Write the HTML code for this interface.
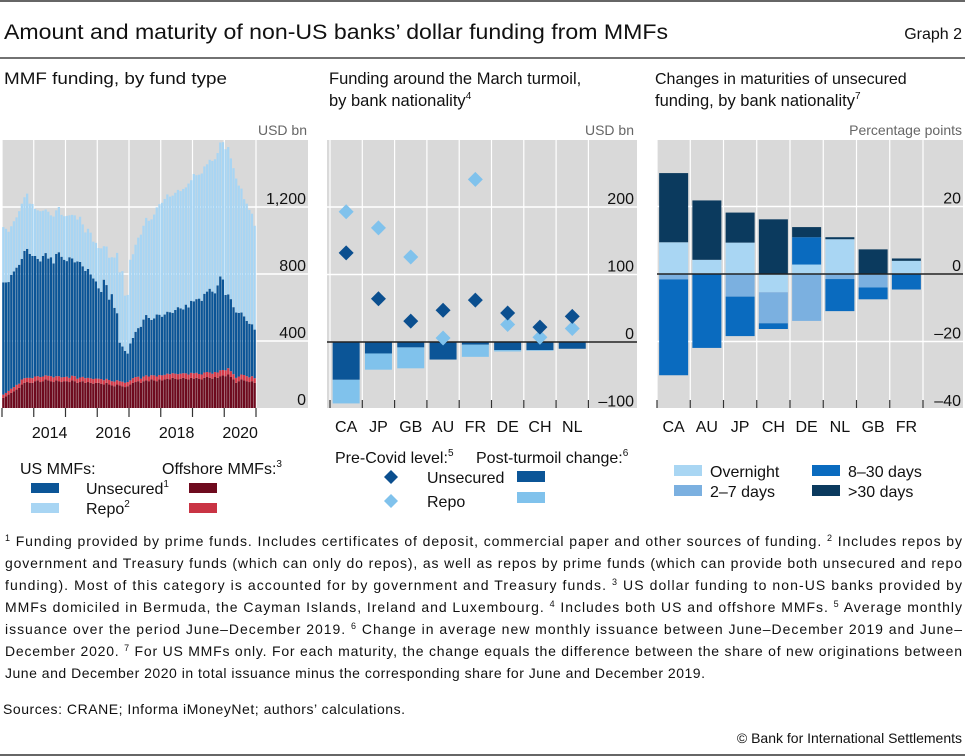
<!DOCTYPE html>
<html><head><meta charset="utf-8">
<style>
html,body{margin:0;padding:0;background:#fff;}
svg{display:block;font-family:"Liberation Sans",sans-serif;}
</style></head>
<body>
<svg id="page" width="965" height="756" viewBox="0 0 965 756" xmlns="http://www.w3.org/2000/svg">
<line x1="0" y1="1" x2="965" y2="1" stroke="#333" stroke-width="1.5"/>
<text x="4" y="39" font-size="21" fill="#111" textLength="664" lengthAdjust="spacingAndGlyphs">Amount and maturity of non-US banks’ dollar funding from MMFs</text>
<text x="962" y="39" font-size="16" fill="#111" text-anchor="end">Graph 2</text>
<line x1="0" y1="58" x2="965" y2="58" stroke="#444" stroke-width="1.5"/>

<text x="4" y="84" font-size="17" fill="#111" textLength="223" lengthAdjust="spacingAndGlyphs">MMF funding, by fund type</text>
<text x="329" y="84" font-size="16.5" fill="#111">Funding around the March turmoil,</text>
<text x="329" y="106" font-size="16.5" fill="#111">by bank nationality<tspan font-size="10" dy="-7">4</tspan></text>
<text x="655" y="84" font-size="16" fill="#111">Changes in maturities of unsecured</text>
<text x="655" y="106" font-size="16.5" fill="#111">funding, by bank nationality<tspan font-size="10" dy="-7">7</tspan></text>

<text x="307" y="135" font-size="14" fill="#666" text-anchor="end">USD bn</text>
<text x="634" y="135" font-size="14" fill="#666" text-anchor="end">USD bn</text>
<text x="962" y="135" font-size="14" fill="#666" text-anchor="end">Percentage points</text>

<g id="left"></g>
<g id="mid"></g>
<g id="right"></g>

<g font-size="16" fill="#111">
<text x="20" y="474">US MMFs:</text>
<text x="162" y="474">Offshore MMFs:<tspan font-size="10" dy="-7">3</tspan></text>
<rect x="31" y="483" width="28" height="10" fill="#0b5597"/>
<rect x="31" y="503" width="28" height="10" fill="#a8d5f3"/>
<text x="86" y="494">Unsecured<tspan font-size="10" dy="-7">1</tspan></text>
<text x="86" y="514">Repo<tspan font-size="10" dy="-7">2</tspan></text>
<rect x="189" y="483" width="28" height="10" fill="#6e0a1e"/>
<rect x="189" y="503" width="28" height="10" fill="#c93444"/>
</g>
<g font-size="16" fill="#111">
<text x="335" y="463">Pre-Covid level:<tspan font-size="10" dy="-7">5</tspan></text>
<text x="476" y="463">Post-turmoil change:<tspan font-size="10" dy="-7">6</tspan></text>
<path d="M391 470 L398 477 L391 484 L384 477 Z" fill="#0b4f8f"/>
<path d="M391 494 L398 501 L391 508 L384 501 Z" fill="#80c2ec"/>
<text x="427" y="483">Unsecured</text>
<text x="427" y="507">Repo</text>
<rect x="517" y="471" width="28" height="11" fill="#0b5597"/>
<rect x="517" y="492" width="28" height="11" fill="#80c2ec"/>
</g>
<g font-size="16" fill="#111">
<rect x="674" y="465" width="28" height="11" fill="#a9d6f3"/>
<rect x="674" y="485" width="28" height="11" fill="#7bb0e0"/>
<rect x="812" y="465" width="28" height="11" fill="#0a6bbf"/>
<rect x="812" y="485" width="28" height="11" fill="#0b3a5e"/>
<text x="710" y="477">Overnight</text>
<text x="710" y="497">2–7 days</text>
<text x="848" y="477">8–30 days</text>
<text x="848" y="497">&gt;30 days</text>
</g>

<g font-size="14" fill="#111">
<text x="5" y="546" textLength="957" lengthAdjust="spacing"><tspan font-size="9" dy="-5">1</tspan><tspan dy="5"> Funding provided by prime funds. Includes certificates of deposit, commercial paper and other sources of funding. </tspan><tspan font-size="9" dy="-5">2</tspan><tspan dy="5"> Includes repos by</tspan></text>
<text x="5" y="568" textLength="957" lengthAdjust="spacing">government and Treasury funds (which can only do repos), as well as repos by prime funds (which can provide both unsecured and repo</text>
<text x="5" y="590" textLength="957" lengthAdjust="spacing">funding). Most of this category is accounted for by government and Treasury funds. <tspan font-size="9" dy="-5">3</tspan><tspan dy="5"> US dollar funding to non-US banks provided by</tspan></text>
<text x="5" y="612" textLength="957" lengthAdjust="spacing">MMFs domiciled in Bermuda, the Cayman Islands, Ireland and Luxembourg. <tspan font-size="9" dy="-5">4</tspan><tspan dy="5"> Includes both US and offshore MMFs. </tspan><tspan font-size="9" dy="-5">5</tspan><tspan dy="5"> Average monthly</tspan></text>
<text x="5" y="634" textLength="957" lengthAdjust="spacing">issuance over the period June–December 2019. <tspan font-size="9" dy="-5">6</tspan><tspan dy="5"> Change in average new monthly issuance between June–December 2019 and June–</tspan></text>
<text x="5" y="656" textLength="957" lengthAdjust="spacing">December 2020. <tspan font-size="9" dy="-5">7</tspan><tspan dy="5"> For US MMFs only. For each maturity, the change equals the difference between the share of new originations between</tspan></text>
<text x="5" y="678" textLength="700" lengthAdjust="spacing">June and December 2020 in total issuance minus the corresponding share for June and December 2019.</text>
<text x="3" y="714" textLength="402" lengthAdjust="spacing">Sources: CRANE; Informa iMoneyNet; authors’ calculations.</text>
<text x="962" y="743" text-anchor="end">© Bank for International Settlements</text>
</g>
<line x1="0" y1="755" x2="965" y2="755" stroke="#333" stroke-width="1.5"/>
</svg>
<script>
// ---------- Left chart data (monthly, Jan 2013 – Dec 2020, USD bn) ----------
const leftYears = ["2014","2016","2018","2020"];
const leftTicks = [0,400,800,1200];
const leftTickLabels = ["0","400","800","1,200"];
const offUnsec = [60,70,80,90,100,110,120,140,150,155,150,150,
 160,165,155,160,170,165,160,155,165,160,155,160,
 160,155,165,160,150,155,160,150,155,150,145,150,
 150,145,140,150,140,135,130,140,135,130,125,130,
 140,150,155,160,150,160,165,160,170,165,160,170,
 165,170,175,170,180,175,170,175,180,175,170,180,
 175,180,175,170,180,185,180,175,185,180,190,195,
 190,200,185,170,150,160,170,165,160,155,160,150];
const offRepo = [20,20,22,25,25,28,25,30,28,25,30,28,
 28,25,30,28,25,27,30,28,25,30,28,25,
 27,25,28,30,25,27,26,28,25,27,28,26,
 25,28,26,24,27,25,28,26,25,27,26,25,
 25,28,30,27,25,28,30,28,26,30,28,27,
 30,28,30,32,28,30,32,30,28,32,30,30,
 32,30,28,30,32,30,32,30,30,32,35,32,
 35,38,35,32,30,28,30,32,30,28,30,28];
const usUnsec = [670,660,650,680,690,700,710,720,760,770,740,730,
 720,700,690,720,730,700,710,680,730,740,720,700,
 690,720,700,680,700,690,660,640,650,620,600,580,
 540,520,600,560,480,520,440,400,230,210,190,170,
 220,240,270,290,310,340,360,350,330,340,370,360,
 350,360,370,370,360,380,400,390,380,410,400,430,
 430,440,450,440,470,480,500,490,470,520,560,540,
 450,440,430,400,390,380,370,350,330,320,310,290];
const usRepo = [330,320,300,290,300,300,320,330,320,330,300,310,
 280,290,300,270,260,280,250,280,260,270,250,260,
 270,250,260,280,250,270,250,230,240,250,220,230,
 240,260,200,230,250,220,300,360,420,450,330,350,
 500,500,520,540,550,560,580,580,600,620,640,660,
 680,690,700,690,700,700,700,700,720,700,740,720,
 760,740,740,760,760,760,770,780,800,790,800,820,
 870,880,840,830,800,760,740,700,700,680,660,620];

// ---------- Middle chart data (USD bn) ----------
const midCats = ["CA","JP","GB","AU","FR","DE","CH","NL"];
const preUnsec = [132,64,31,47,62,43,22,38];
const preRepo = [193,169,126,6,241,26,7,20];
const chgUnsec = [-56,-17,-8,-26,-4,-12,-12,-10];
const chgRepo = [-35,-24,-31,0,-18,-2,-1,0];
const midTicks = [-100,0,100,200];
const midTickLabels = ["–100","0","100","200"];

// ---------- Right chart data (percentage points) ----------
const rightCats = ["CA","AU","JP","CH","DE","NL","GB","FR"];
const overnight = [9.4,4.2,9.3,-5.4,2.8,10.3,0,3.9];
const days2to7 = [-1.6,0,-6.7,-9.2,-13.9,-1.5,-4,0];
const days8to30 = [-28.4,-21.9,-11.7,-1.7,8.1,-9.5,-3.5,-4.6];
const over30 = [20.5,17.6,8.9,16.2,3.0,0.6,7.3,0.7];
const rightTicks = [-40,-20,0,20];
const rightTickLabels = ["–40","–20","0","20"];

const NS="http://www.w3.org/2000/svg";
function mk(parent,tag,attrs,text){const e=document.createElementNS(NS,tag);for(const k in attrs)e.setAttribute(k,attrs[k]);if(text!==undefined)e.textContent=text;parent.appendChild(e);return e;}

// ===== LEFT =====
(function(){
 const g=document.getElementById('left');
 const X0=2,X1=308,XB=256,Y0=140,Y1=408;
 const n=usRepo.length;
 const step=(XB-X0)/n;
 const y=v=>Y1-v*(67/400);
 const xi=i=>X0+i*step;
 const bg=mk(g,'rect',{x:X0,y:Y0,width:X1-X0,height:Y1-Y0,fill:'#d9d9d9'});
 
 
 leftTicks.forEach((t,k)=>{
  if(t>0){const l=mk(g,'line',{x1:X0,x2:X1,y1:y(t),y2:y(t),stroke:'#fff','stroke-width':1.5});
   
   }
 });
 for(let yr=0;yr<=8;yr++){
  const xx=xi(yr*12);
  const l=mk(g,'line',{x1:xx,x2:xx,y1:Y0,y2:Y1,stroke:'#fff','stroke-width':1.2});
  
  
 }
 const cols=['#6e0a1e','#d43848','#0b5597','#a8d5f3'];
 const series=[offUnsec,offRepo,usUnsec,usRepo];
 const names=['offshore-unsecured-bar','offshore-repo-bar','us-unsecured-bar','us-repo-bar'];
 for(let i=0;i<n;i++){
  let base=0;
  series.forEach((s,k)=>{
   const v=s[i];
   const r=mk(g,'rect',{x:xi(i)+0.2,y:y(base+v),width:step-0.4,height:y(base)-y(base+v),fill:cols[k]});
   
   
   base+=v;
  });
 }
 leftTicks.forEach((t,k)=>{
  const tx=mk(g,'text',{x:306,y:y(t)-3,'font-size':16,'text-anchor':'end',fill:'#111'},leftTickLabels[k]);
  
  
 });
 for(let yr=0;yr<=8;yr++){
  const xx=xi(yr*12);
  const l=mk(g,'line',{x1:xx,x2:xx,y1:Y1,y2:Y1+9,stroke:'#333','stroke-width':1.2});
  
  
 }
 leftYears.forEach((lab,k)=>{
  const cx=xi((1+2*k)*12+6);
  const tx=mk(g,'text',{x:cx,y:438,'font-size':16,'text-anchor':'middle',fill:'#111'},lab);
  
  
 });
})();

// ===== MIDDLE =====
(function(){
 const g=document.getElementById('mid');
 const X0=327,X1=637,XS=330,W=32.3,Y0=140,Y1=408;
 const y=v=>342-v*0.675;
 const bg=mk(g,'rect',{x:X0,y:Y0,width:X1-X0,height:Y1-Y0,fill:'#d9d9d9'});
 
 
 midTicks.forEach(t=>{
  if(t>0){const l=mk(g,'line',{x1:X0,x2:X1,y1:y(t),y2:y(t),stroke:'#fff','stroke-width':1.5});
   
   }
 });
 for(let i=0;i<=midCats.length;i++){
  const xx=XS+i*W;
  const l=mk(g,'line',{x1:xx,x2:xx,y1:Y0,y2:Y1,stroke:'#fff','stroke-width':1.2});
  
  
  const t=mk(g,'line',{x1:xx,x2:xx,y1:Y1-8,y2:Y1,stroke:'#333','stroke-width':1.2});
  
  
 }
 midCats.forEach((c,i)=>{
  const cx=XS+i*W+W/2, bw=27;
  const a=chgUnsec[i], b=chgRepo[i];
  const r1=mk(g,'rect',{x:cx-bw/2,y:Math.min(y(0),y(a)),width:bw,height:Math.abs(y(a)-y(0)),fill:'#0b5597'});
  
  
  const r2=mk(g,'rect',{x:cx-bw/2,y:Math.min(y(a),y(a+b)),width:bw,height:Math.abs(y(a+b)-y(a)),fill:'#80c2ec'});
  
  
 });
 const z=mk(g,'line',{x1:X0,x2:X1,y1:y(0),y2:y(0),stroke:'#222','stroke-width':1.5});
 
 
 midCats.forEach((c,i)=>{
  const cx=XS+i*W+W/2, d=7.5;
  [[preRepo,'#80c2ec','pre-covid-repo-diamond'],[preUnsec,'#0b4f8f','pre-covid-unsecured-diamond']].forEach(([arr,col,nm])=>{
   const yy=y(arr[i]);
   const p=mk(g,'path',{d:`M${cx} ${yy-d} L${cx+d} ${yy} L${cx} ${yy+d} L${cx-d} ${yy} Z`,fill:col});
   
   
  });
  const tx=mk(g,'text',{x:cx,y:432,'font-size':16,'text-anchor':'middle',fill:'#111'},c);
  
  
 });
 midTicks.forEach((t,k)=>{
  const tx=mk(g,'text',{x:634,y:y(t)-3,'font-size':16,'text-anchor':'end',fill:'#111'},midTickLabels[k]);
  
  
 });
})();

// ===== RIGHT =====
(function(){
 const g=document.getElementById('right');
 const X0=657,X1=963,W=33.25,Y0=140,Y1=408;
 const y=v=>274-v*3.375;
 const bg=mk(g,'rect',{x:X0,y:Y0,width:X1-X0,height:Y1-Y0,fill:'#d9d9d9'});
 
 
 rightTicks.forEach(t=>{
  if(t!==0&&t>-40){const l=mk(g,'line',{x1:X0,x2:X1,y1:y(t),y2:y(t),stroke:'#fff','stroke-width':1.5});
   
   }
 });
 for(let i=0;i<=rightCats.length;i++){
  const xx=X0+i*W;
  const l=mk(g,'line',{x1:xx,x2:xx,y1:Y0,y2:Y1,stroke:'#fff','stroke-width':1.2});
  
  
  const t=mk(g,'line',{x1:xx,x2:xx,y1:Y1-8,y2:Y1,stroke:'#333','stroke-width':1.2});
  
  
 }
 const series=[overnight,days2to7,days8to30,over30];
 const cols=['#a9d6f3','#7bb0e0','#0a6bbf','#0b3a5e'];
 const names=['overnight-bar','days-2-7-bar','days-8-30-bar','over-30-days-bar'];
 rightCats.forEach((c,i)=>{
  const cx=X0+i*W+W/2,bw=29;
  let pos=0,neg=0;
  series.forEach((s,k)=>{
   const v=s[i]; if(!v) return;
   let a,b;
   if(v>0){a=pos;b=pos+v;pos=b;} else {a=neg;b=neg+v;neg=b;}
   const r=mk(g,'rect',{x:cx-bw/2,y:Math.min(y(a),y(b)),width:bw,height:Math.abs(y(b)-y(a)),fill:cols[k]});
   
   
  });
  const tx=mk(g,'text',{x:cx,y:432,'font-size':16,'text-anchor':'middle',fill:'#111'},c);
  
  
 });
 const z=mk(g,'line',{x1:X0,x2:X1,y1:y(0),y2:y(0),stroke:'#222','stroke-width':1.5});
 
 
 rightTicks.forEach((t,k)=>{
  const tx=mk(g,'text',{x:961,y:y(t)-3,'font-size':16,'text-anchor':'end',fill:'#111'},rightTickLabels[k]);
  
  
 });
})();
</script>
</body></html>
